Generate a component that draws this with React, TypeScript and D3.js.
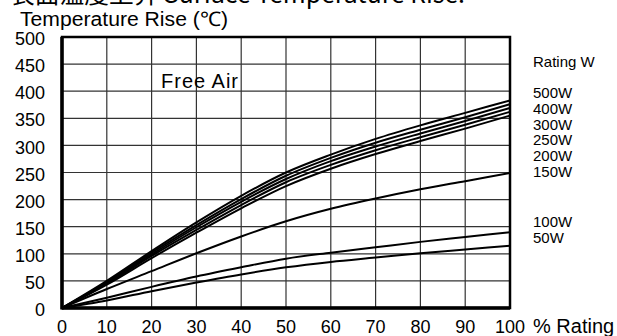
import React from 'react'
import * as d3 from 'd3'

// % of rated power
const ratingPct = [0, 10, 20, 30, 40, 50, 60, 70, 80, 90, 100]

// temperature rise per rated wattage
const rise500W = [0, 50, 105, 158, 207, 250, 283, 312, 337, 360, 383]
const rise400W = [0, 48, 102, 153, 201, 244, 277, 305, 329, 352, 376]
const rise300W = [0, 47, 99, 149, 196, 238, 271, 298, 322, 345, 369]
const rise250W = [0, 45, 96, 144, 190, 232, 264, 291, 315, 338, 362]
const rise200W = [0, 43, 92, 139, 184, 225, 257, 284, 308, 331, 355]
const rise150W = [0, 35, 68, 101, 132, 160, 183, 202, 219, 234, 249]
const rise100W = [0, 19, 39, 58, 75, 91, 102, 112, 122, 131, 140]
const rise50W = [0, 14, 31, 47, 62, 75, 85, 93, 101, 108, 115]

const seriesList = [rise500W, rise400W, rise300W, rise250W, rise200W, rise150W, rise100W, rise50W]

const xTicks = [0, 10, 20, 30, 40, 50, 60, 70, 80, 90, 100]
const yTicks = [0, 50, 100, 150, 200, 250, 300, 350, 400, 450, 500]

const upperLabels = ['500W', '400W', '300W', '250W', '200W', '150W']
const lowerLabels = ['100W', '50W']

const font = 'Arial, "Liberation Sans", sans-serif'

export default function App() {
    const width = 617
    const height = 336
    const plot = { left: 62, right: 510, top: 37, bottom: 308 }

    const x = d3.scaleLinear().domain([0, 100]).range([plot.left, plot.right])
    const y = d3.scaleLinear().domain([0, 500]).range([plot.bottom, plot.top])

    const line = d3.line<number>()
        .x((d, i) => x(ratingPct[i]))
        .y(d => y(d))
        .curve(d3.curveMonotoneX)

    return (
        <svg width={width} height={height}
            style={{ position: 'absolute', left: 0, top: 0, background: '#fff' }}
            fontFamily={font}>
            <rect width={width} height={height} fill="#fff" />

            {/* title, cut off at the top in the original */}
            <text x={10} y={3} fontSize={24} fontFamily='"Noto Sans CJK JP", Arial, sans-serif'
                textLength={455} lengthAdjust="spacingAndGlyphs">表面温度上昇 Surface Temperature Rise:</text>
            <text x={20} y={26} fontSize={20} textLength={208} lengthAdjust="spacingAndGlyphs">Temperature Rise (℃)</text>

            {/* grid */}
            <g stroke="#333" strokeWidth={1.2}>
                {xTicks.slice(1, -1).map(t => (
                    <line key={'vx' + t} x1={x(t)} x2={x(t)} y1={plot.top} y2={plot.bottom} />
                ))}
                {yTicks.slice(1, -1).map(t => (
                    <line key={'hy' + t} x1={plot.left} x2={plot.right} y1={y(t)} y2={y(t)} />
                ))}
            </g>

            {/* curves */}
            <g fill="none" stroke="#000" strokeWidth={2}>
                {seriesList.map((s, i) => (
                    <path key={i} d={line(s) || ''} />
                ))}
            </g>

            {/* frame */}
            <rect x={plot.left} y={plot.top} width={plot.right - plot.left} height={plot.bottom - plot.top}
                fill="none" stroke="#000" strokeWidth={2.5} />
            <line x1={plot.left} x2={plot.left} y1={plot.top} y2={plot.bottom + 1.5} stroke="#000" strokeWidth={3.5} />
            <line x1={plot.left} x2={plot.right} y1={plot.bottom} y2={plot.bottom} stroke="#000" strokeWidth={3.5} />

            {/* y tick labels */}
            {yTicks.map(t => (
                <text key={'yt' + t} x={45} y={y(t)} dy="0.45em" textAnchor="end" fontSize={18}>{t}</text>
            ))}

            {/* x tick labels */}
            {xTicks.map(t => (
                <text key={'xt' + t} x={x(t)} y={333} textAnchor="middle" fontSize={18}>{t}</text>
            ))}
            <text x={533} y={333} fontSize={20}>% Rating</text>

            <text x={161} y={88} fontSize={20} letterSpacing={1}>Free Air</text>

            {/* wattage legend */}
            <text x={533} y={67} fontSize={15}>Rating W</text>
            {upperLabels.map((l, i) => (
                <text key={l} x={533} y={98 + i * 15.8} fontSize={15}>{l}</text>
            ))}
            {lowerLabels.map((l, i) => (
                <text key={l} x={533} y={227 + i * 15.8} fontSize={15}>{l}</text>
            ))}
        </svg>
    )
}
